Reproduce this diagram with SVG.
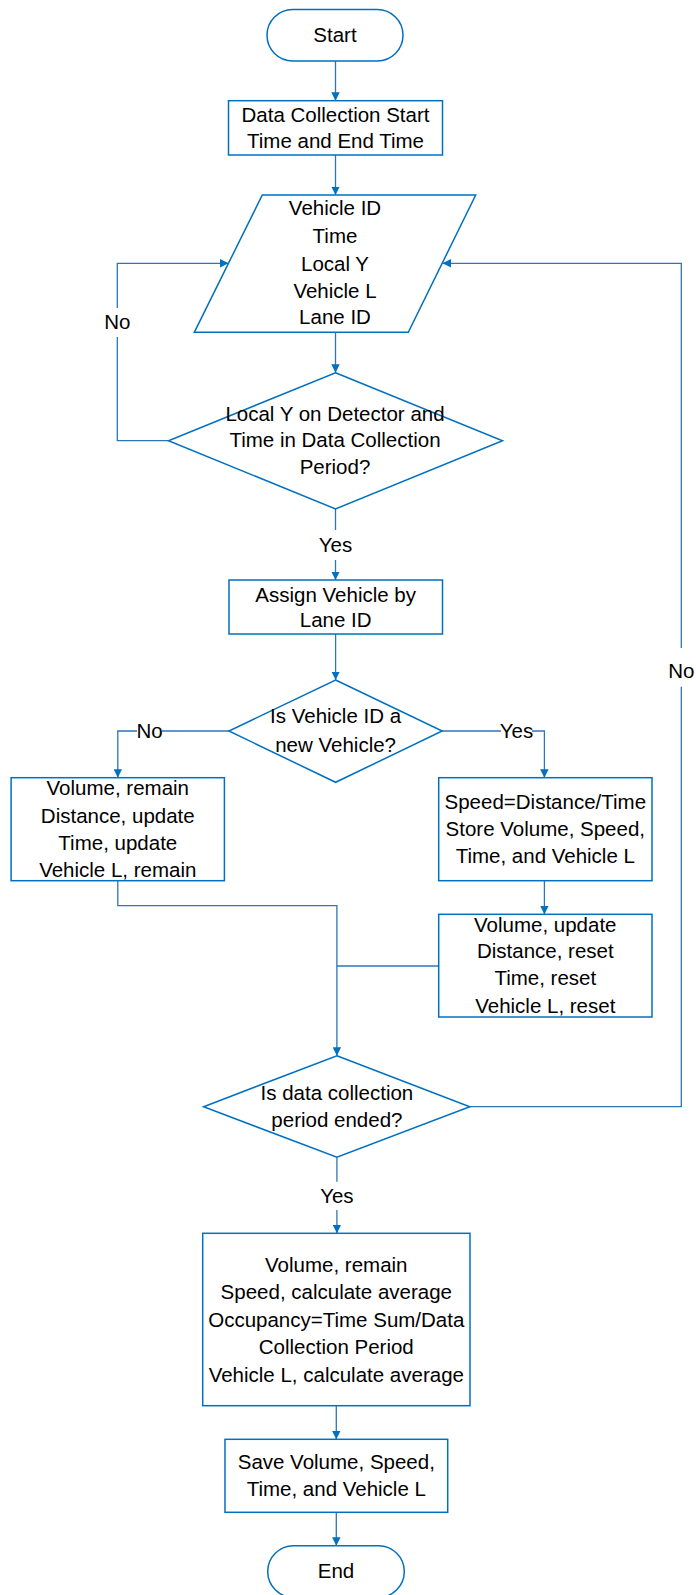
<svg xmlns="http://www.w3.org/2000/svg" width="696" height="1595" viewBox="0 0 696 1595">
<style>
.n{fill:#ffffff;stroke:#0070C0;stroke-width:1.5}
.c{fill:none;stroke:#2E75B6;stroke-width:1.3}
text{font-family:"Liberation Sans",Arial,sans-serif;font-size:20.5px;fill:#000;text-anchor:middle}
</style>
<defs>
<marker id="ah" viewBox="0 0 10 10" refX="10" refY="5" markerWidth="8.5" markerHeight="8.5" markerUnits="userSpaceOnUse" orient="auto">
<path d="M0,0 L10,5 L0,10 z" fill="#0070C0"/>
</marker>
</defs>
<g id="connectors">
<path class="c" d="M335.5,61 V100.7" marker-end="url(#ah)"/>
<path class="c" d="M335.5,155 V195" marker-end="url(#ah)"/>
<path class="c" d="M335.5,332.3 V372.7" marker-end="url(#ah)"/>
<path class="c" d="M168.5,440.7 H117.3 V337"/>
<path class="c" d="M117.3,308 V263.3 H228.5" marker-end="url(#ah)"/>
<text x="117.3" y="329">No</text>
<path class="c" d="M335.5,509 V530"/>
<path class="c" d="M335.5,560 V580" marker-end="url(#ah)"/>
<text x="335.5" y="552">Yes</text>
<path class="c" d="M335.6,634 V680" marker-end="url(#ah)"/>
<path class="c" d="M228.9,731 H162"/>
<path class="c" d="M137,731 H117.8 V777.7" marker-end="url(#ah)"/>
<text x="149.5" y="738">No</text>
<path class="c" d="M442.2,731 H501"/>
<path class="c" d="M532,731 H544.4 V777.7" marker-end="url(#ah)"/>
<text x="516.5" y="738">Yes</text>
<path class="c" d="M117.8,880.7 V905.7 H336.9 V1055.7" marker-end="url(#ah)"/>
<path class="c" d="M544.4,880.7 V914.3" marker-end="url(#ah)"/>
<path class="c" d="M438.7,966 H336.9"/>
<path class="c" d="M469.8,1106.7 H681.3 V686.7"/>
<path class="c" d="M681.3,648 V263.3 H442.5" marker-end="url(#ah)"/>
<text x="681.3" y="678">No</text>
<path class="c" d="M336.9,1157.3 V1181.7"/>
<path class="c" d="M336.9,1210 V1233.3" marker-end="url(#ah)"/>
<text x="336.9" y="1203">Yes</text>
<path class="c" d="M336.3,1405.7 V1439.3" marker-end="url(#ah)"/>
<path class="c" d="M336.3,1512.3 V1545.7" marker-end="url(#ah)"/>
</g>
<g id="start">
<rect class="n" x="267" y="9.5" width="136" height="51.5" rx="25.75"/>
<text x="335" y="42">Start</text>
</g>
<g id="collection-time">
<rect class="n" x="228.5" y="100.7" width="214" height="54.3"/>
<text x="335.5" y="121.7">Data Collection Start</text>
<text x="335.5" y="147.7">Time and End Time</text>
</g>
<g id="input-data">
<polygon class="n" points="262.3,195 475.7,195 408.3,332.3 194.3,332.3"/>
<text x="335" y="215">Vehicle ID</text>
<text x="335" y="243">Time</text>
<text x="335" y="271">Local Y</text>
<text x="335" y="298">Vehicle L</text>
<text x="335" y="324">Lane ID</text>
</g>
<g id="decision-detector">
<polygon class="n" points="335.5,372.7 502.5,440.7 335.5,509 168.5,440.7"/>
<text x="335" y="420.7">Local Y on Detector and</text>
<text x="335" y="447.3">Time in Data Collection</text>
<text x="335" y="474">Period?</text>
</g>
<g id="assign-vehicle">
<rect class="n" x="229" y="580" width="213.5" height="54"/>
<text x="335.7" y="601.7">Assign Vehicle by</text>
<text x="335.7" y="626.7">Lane ID</text>
</g>
<g id="decision-new-vehicle">
<polygon class="n" points="335.6,680 442.2,731 335.6,782.3 228.9,731"/>
<text x="335.6" y="723">Is Vehicle ID a</text>
<text x="335.6" y="751.7">new Vehicle?</text>
</g>
<g id="update-existing">
<rect class="n" x="11.1" y="777.7" width="213.3" height="103"/>
<text x="117.8" y="795">Volume, remain</text>
<text x="117.8" y="822.7">Distance, update</text>
<text x="117.8" y="850">Time, update</text>
<text x="117.8" y="876.7">Vehicle L, remain</text>
</g>
<g id="store-new">
<rect class="n" x="438.7" y="777.7" width="213.3" height="103"/>
<text x="545.3" y="809.3">Speed=Distance/Time</text>
<text x="545.3" y="836">Store Volume, Speed,</text>
<text x="545.3" y="863.3">Time, and Vehicle L</text>
</g>
<g id="reset-values">
<rect class="n" x="438.7" y="914.3" width="213.3" height="102.7"/>
<text x="545.3" y="931.7">Volume, update</text>
<text x="545.3" y="958.3">Distance, reset</text>
<text x="545.3" y="985">Time, reset</text>
<text x="545.3" y="1013.3">Vehicle L, reset</text>
</g>
<g id="decision-period-ended">
<polygon class="n" points="336.9,1055.7 469.8,1106.7 336.9,1157.3 203.6,1106.7"/>
<text x="336.9" y="1100">Is data collection</text>
<text x="336.9" y="1126.7">period ended?</text>
</g>
<g id="calculate-averages">
<rect class="n" x="202.7" y="1233.3" width="267.3" height="172.4"/>
<text x="336.3" y="1271.7">Volume, remain</text>
<text x="336.3" y="1299.3">Speed, calculate average</text>
<text x="336.3" y="1326.7">Occupancy=Time Sum/Data</text>
<text x="336.3" y="1354">Collection Period</text>
<text x="336.3" y="1381.7">Vehicle L, calculate average</text>
</g>
<g id="save-results">
<rect class="n" x="225" y="1439.3" width="222.7" height="73"/>
<text x="336.3" y="1469.3">Save Volume, Speed,</text>
<text x="336.3" y="1496">Time, and Vehicle L</text>
</g>
<g id="end">
<rect class="n" x="267.7" y="1545.7" width="136.6" height="51.7" rx="25.85"/>
<text x="336" y="1578.3">End</text>
</g>
</svg>
